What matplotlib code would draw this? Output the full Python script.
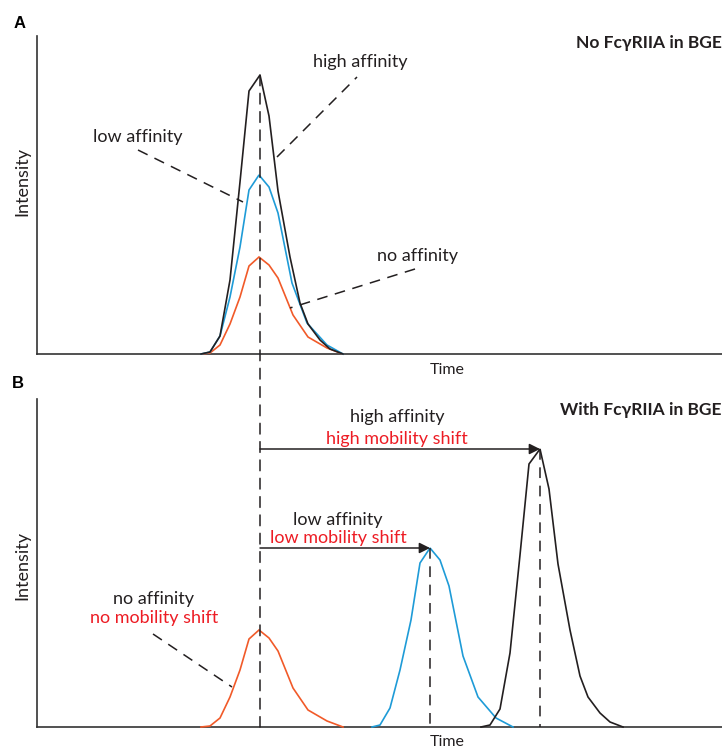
import matplotlib
matplotlib.use("Agg")
import matplotlib.pyplot as plt
from matplotlib.patches import ConnectionPatch, FancyArrowPatch

# ---------------- data (time, intensity) ----------------
# Panel A: No FcgRIIA in BGE
a_black_t = [201, 210, 220, 230, 240, 249, 260, 269, 278, 290, 300, 308, 320, 330, 343]
a_black_y = [0, 2, 18, 74, 172, 263, 279, 238, 163, 97, 51, 30, 14, 5, 0]
a_blue_t = [201, 210, 220, 230, 240, 249, 259, 269, 278, 292, 307, 327, 343]
a_blue_y = [0, 2, 18, 57, 107, 164, 179, 167, 141, 71, 31, 9, 0]
a_orange_t = [201, 210, 220, 230, 240, 249, 259, 269, 278, 293, 308, 327, 343]
a_orange_y = [0, 1, 9, 30, 57, 88, 97, 89, 76, 39, 17, 6, 0]

# Panel B: With FcgRIIA in BGE
b_orange_t = [201, 210, 220, 230, 240, 249, 259, 269, 278, 293, 308, 327, 343]
b_orange_y = [0, 1, 9, 30, 57, 88, 97, 89, 76, 39, 17, 6, 0]
b_blue_t = [372, 380, 390, 400, 411, 420, 430, 440, 449, 463, 478, 496, 513]
b_blue_y = [0, 2, 19, 57, 107, 164, 179, 167, 141, 71, 30, 9, 0]
b_black_t = [481, 490, 500, 510, 520, 529, 540, 549, 558, 570, 580, 588, 600, 610, 623]
b_black_y = [0, 2, 18, 74, 172, 263, 278, 238, 163, 97, 51, 30, 14, 5, 0]

BLACK = "#231f20"
BLUE = "#1e9bd7"
ORANGE = "#f15a29"
RED = "#ed1c24"
TXT = "#231f20"
FONT = "Lato"
FS = 13

W, H = 722, 749
fig = plt.figure(figsize=(W / 100, H / 100), dpi=100)

def make_ax(top_px, base_px):
    ax = fig.add_axes([37 / W, (H - base_px) / H, (W - 37) / W, (base_px - top_px) / H])
    ax.set_xlim(37, W)
    ax.set_ylim(0, base_px - top_px)
    for s in ("top", "right"):
        ax.spines[s].set_visible(False)
    for s in ("left", "bottom"):
        ax.spines[s].set_color("#333333")
        ax.spines[s].set_linewidth(1.2)
    ax.set_xticks([])
    ax.set_yticks([])
    ax.patch.set_alpha(0)
    return ax

axA = make_ax(36, 354)
axB = make_ax(399, 727)

lw = 1.2
for ax, series in ((axA, [(a_orange_t, a_orange_y, ORANGE), (a_blue_t, a_blue_y, BLUE), (a_black_t, a_black_y, BLACK)]),
                   (axB, [(b_orange_t, b_orange_y, ORANGE), (b_blue_t, b_blue_y, BLUE), (b_black_t, b_black_y, BLACK)])):
    for t, y, c in series:
        ax.plot(t, y, color=c, lw=lw, solid_joinstyle="miter", clip_on=False, zorder=3)

dash = dict(color=BLACK, lw=1.1, linestyle=(0, (7, 5)), zorder=4)

def txt(ax, x, y, s, color=TXT, fs=FS, **kw):
    ax.text(x, y, s, color=color, fontsize=fs, family=[FONT, "DejaVu Sans"], ha="center",
            va="center", clip_on=False, **kw)

# ---------- Panel A annotations ----------
pk = a_black_y.index(max(a_black_y))
con = ConnectionPatch(xyA=(a_black_t[pk], a_black_y[pk]), coordsA=axA.transData,
                      xyB=(a_black_t[pk], 0), coordsB=axB.transData, **dash)
fig.add_artist(con)

axA.plot([277, 357], [197, 277], **dash)
axA.plot([138, 243], [204, 152], **dash)
axA.plot([415, 290], [85, 46], **dash)
txt(axA, 360, 292, "high affinity")
txt(axA, 138, 217, "low affinity")
txt(axA, 418, 98, "no affinity")
txt(axA, 447, -16, "Time", fs=11.5)
txt(axA, 22, 172, "Intensity", rotation=90)
axA.text(722, 311, "No Fc\u03b3RIIA in BGE", ha="right", va="center", fontsize=12.5,
         fontweight="bold", family=[FONT, "DejaVu Sans"], color=TXT, clip_on=False)
axA.text(20, 331, "A", ha="center", va="center", fontsize=12, fontweight="bold",
         family="Liberation Sans", color="black", clip_on=False)

# ---------- Panel B annotations ----------
bpk = b_blue_y.index(max(b_blue_y))
kpk = b_black_y.index(max(b_black_y))
axB.plot([b_blue_t[bpk]] * 2, [b_blue_y[bpk], 0], **dash)
axB.plot([b_black_t[kpk]] * 2, [b_black_y[kpk], 0], **dash)

for (xt, yt) in ((b_black_t[kpk], b_black_y[kpk]), (b_blue_t[bpk], b_blue_y[bpk])):
    arr = FancyArrowPatch((a_black_t[pk], yt), (xt, yt), arrowstyle="-|>", mutation_scale=16,
                          color=BLACK, lw=1.1, shrinkA=0, shrinkB=0, zorder=5)
    axB.add_patch(arr)

txt(axB, 397, 310, "high affinity")
txt(axB, 397, 288, "high mobility shift", color=RED)
txt(axB, 338, 207, "low affinity")
txt(axB, 338, 189, "low mobility shift", color=RED)
txt(axB, 154, 128, "no affinity")
txt(axB, 154, 109, "no mobility shift", color=RED)
axB.plot([153, 232], [93, 40], **dash)
txt(axB, 447, -15, "Time", fs=11.5)
txt(axB, 22, 162, "Intensity", rotation=90)
axB.text(722, 317, "With Fc\u03b3RIIA in BGE", ha="right", va="center", fontsize=12.5,
         fontweight="bold", family=[FONT, "DejaVu Sans"], color=TXT, clip_on=False)
axB.text(18, 344, "B", ha="center", va="center", fontsize=12, fontweight="bold",
         family="Liberation Sans", color="black", clip_on=False)

fig.savefig("out.png", dpi=100)
